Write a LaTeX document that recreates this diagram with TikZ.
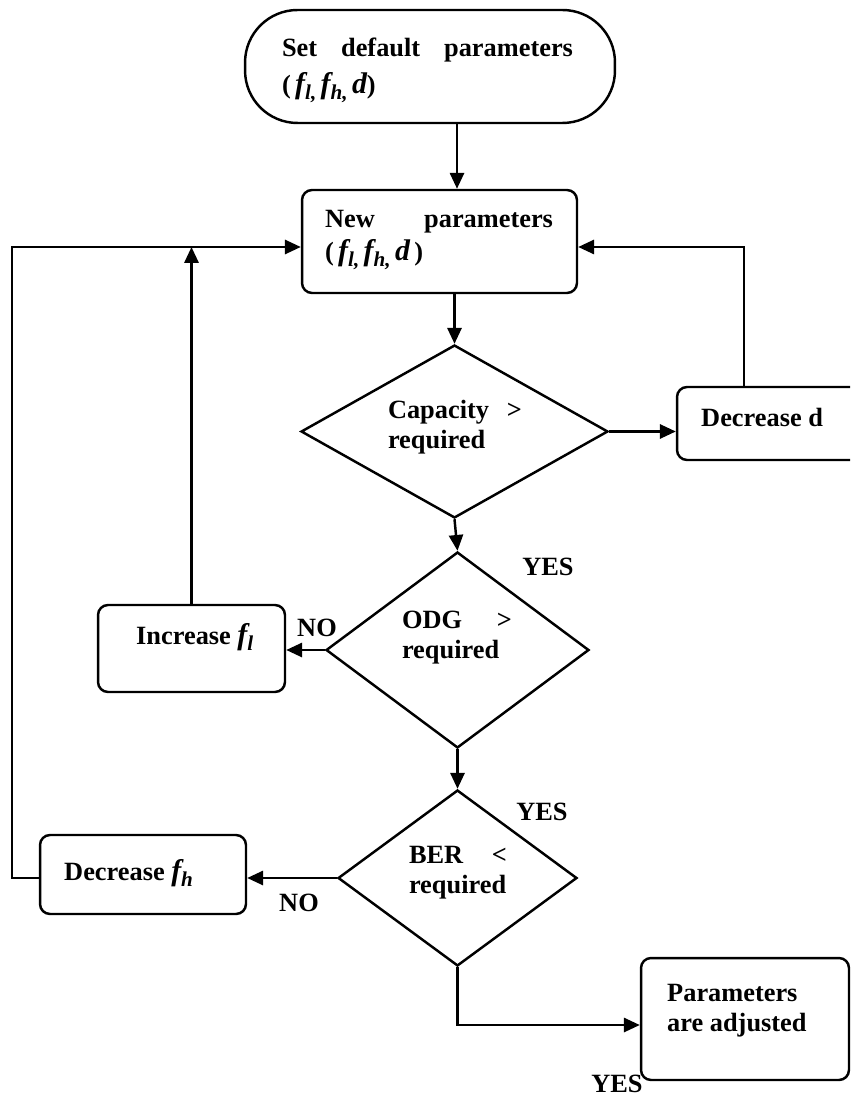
\documentclass[tikz,border=0pt]{standalone}
\usepackage{fontspec}
\setmainfont{Liberation Serif}
\usetikzlibrary{arrows.meta,shapes.geometric}
\newcommand{\bi}[1]{{\fontsize{17pt}{17pt}\selectfont\bfseries\itshape #1}}
\newcommand{\sbs}[1]{\raisebox{-0.5ex}{\fontsize{12pt}{12pt}\selectfont\bfseries\itshape #1}}
\newcommand{\spread}[2]{\hbox to #1{#2}}
\begin{document}
\begin{tikzpicture}[x=0.02cm,y=-0.02cm, line width=1.4pt,
  font=\fontsize{15pt}{17pt}\selectfont\bfseries,
  box/.style={draw, rounded corners=0.2cm, inner sep=0pt},
  dia/.style={draw, diamond, inner sep=0pt},
  txt/.style={inner sep=0pt, align=left},
  arr/.style={-{Triangle[length=9pt,width=8pt]}},
  lbl/.style={inner sep=0pt}]
\clip (0,0) rectangle (850,1097);

% shapes
\node[draw, rounded corners=1.05cm, inner sep=0pt, minimum width=7.4cm, minimum height=2.26cm] (start) at (430,66.5) {};
\node[box, minimum width=5.5cm, minimum height=2.06cm] (newp) at (439.5,241.5) {};
\node[dia, minimum width=6.14cm, minimum height=3.46cm] (d1) at (454.5,431.5) {};
\node[box, minimum width=4.06cm, minimum height=1.46cm] (decd) at (778.5,423.5) {};
\node[dia, minimum width=5.26cm, minimum height=3.92cm] (d2) at (457.5,650) {};
\node[box, minimum width=3.74cm, minimum height=1.74cm] (incf) at (191.5,648.5) {};
\node[dia, minimum width=4.78cm, minimum height=3.52cm] (d3) at (457.5,878) {};
\node[box, minimum width=4.12cm, minimum height=1.58cm] (decfh) at (143,874.5) {};
\node[box, minimum width=4.16cm, minimum height=2.44cm] (final) at (745,1019) {};

% texts
\node[txt, text width=5.82cm] (tstart) at (427.5,70)
  {\spread{5.82cm}{Set\hfill default\hfill parameters}\\[4pt]
   (\,\bi{f}\sbs{l,}\,\bi{f}\sbs{h,}\,\bi{d})};
\node[txt, text width=4.56cm] (tnewp) at (439,240)
  {\spread{4.56cm}{New\hfill parameters}\\[2pt]
   (\,\bi{f}\sbs{l,}\,\bi{f}\sbs{h,}\,\bi{d}\,)};
\node[txt, text width=2.68cm] (td1) at (455,427)
  {\spread{2.68cm}{Capacity\hfill >}\\required};
\node[txt, anchor=west] (tdecd) at (700,417) {Decrease d};
\node[txt, text width=2.2cm] (td2) at (457,638)
  {\spread{2.2cm}{ODG\hfill >}\\required};
\node[txt, anchor=west] (tincf) at (135,637) {Increase \bi{f}\sbs{l}};
\node[txt, text width=1.96cm] (td3) at (458,872.5)
  {\spread{1.96cm}{BER\hfill <}\\required};
\node[txt, anchor=west] (tdecfh) at (63,873) {Decrease \bi{f}\sbs{h}};
\node[txt, anchor=west] (tfinal) at (666,1011) {Parameters\\are adjusted};

% labels
\node[lbl] (yes1) at (548,567) {YES};
\node[lbl] (no1) at (317,628) {NO};
\node[lbl] (yes2) at (542,812) {YES};
\node[lbl] (no2) at (299,903) {NO};
\node[lbl] (yes3) at (617,1084) {YES};

% helper coordinates
\coordinate (cx) at (457,0);
\coordinate (rl) at (744,247);
\coordinate (ll) at (12,247);
\coordinate (fy) at (0,1025);

% connectors
\draw[arr] (start.south -| cx) -- (newp.north -| cx);
\draw[arr] (newp.south -| d1.north) -- (d1.north);
\draw[arr] (d1.east) -- (decd.west |- d1.east);
\draw[arr] (decd.north -| rl) -- (rl) -- (newp.east |- rl);
\draw[arr] (d1.south) -- (d2.north);
\draw[arr] (d2.west) -- (incf.east |- d2.west);
\draw[arr] (incf.north) -- (incf.north |- ll);
\draw[arr] (d2.south) -- (d3.north);
\draw[arr] (d3.west) -- (decfh.east |- d3.west);
\draw[arr] (decfh.west |- d3.west) -- (ll |- d3.west) -- (ll) -- (newp.west |- ll);
\draw[arr] (d3.south) -- (d3.south |- fy) -- (final.west |- fy);
\end{tikzpicture}
\end{document}
